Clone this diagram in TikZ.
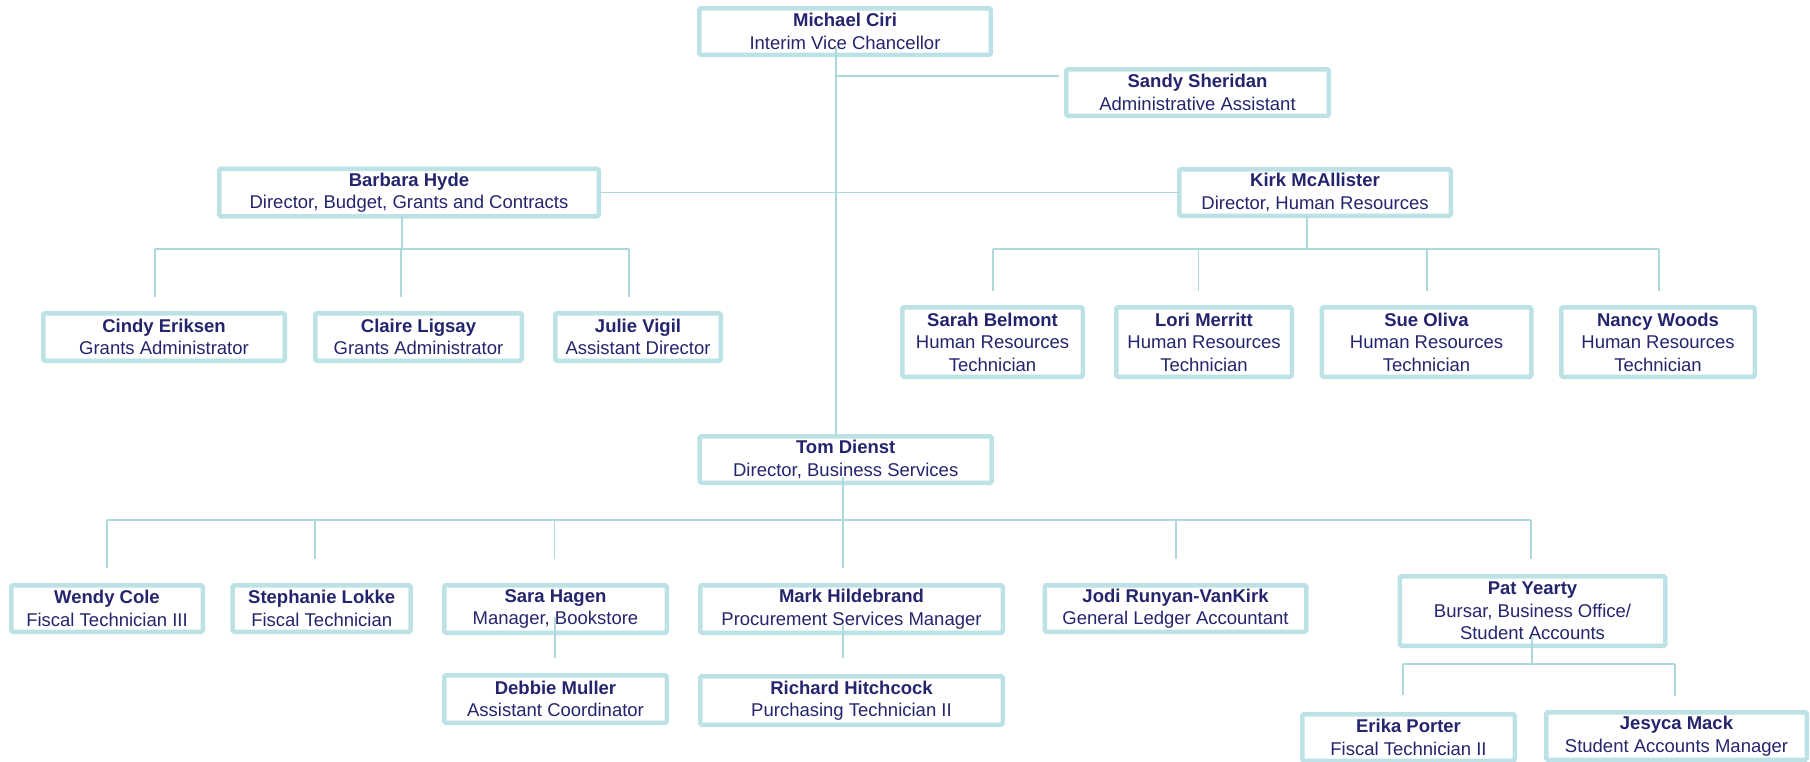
\documentclass[tikz,border=0pt]{standalone}
\usepackage{fontspec}
\setmainfont{Liberation Sans}
\definecolor{edge}{HTML}{BCE2E5}
\definecolor{wire}{HTML}{ADD8DC}
\definecolor{ink}{HTML}{25256E}
\tikzset{
  person/.style={draw=edge, line width=4.5pt, fill=white, rounded corners=1.5pt,
    inner sep=0pt, outer sep=0pt, align=center, text=ink,
    font=\fontsize{18.5}{22.5}\selectfont},
  link/.style={draw=wire, line width=1.6pt},
}
\newcommand{\who}[2]{\textbf{#1}\\#2}
\newcommand{\whothree}[3]{\textbf{#1}\\#2\\#3}
\begin{document}
\begin{tikzpicture}[x=1pt,y=-1pt]
\useasboundingbox (0,0) rectangle (1810,761);
\fill[white] (0,0) rectangle (1810,761);
\clip (0,0) rectangle (1810,761);

% ---- people ----
\node[person, minimum width=291.5, minimum height=46.5] (ciri) at (845,31.5) {\who{Michael Ciri}{Interim Vice Chancellor}};
\node[person, minimum width=262.5, minimum height=46.5] (sheridan) at (1197.5,92.5) {\who{Sandy Sheridan}{Administrative Assistant}};
\node[person, minimum width=379.5, minimum height=47.5] (hyde) at (409,192.5) {\who{Barbara Hyde}{Director, Budget, Grants and Contracts}};
\node[person, minimum width=271.5, minimum height=46.5] (mcallister) at (1315,192.5) {\who{Kirk McAllister}{Director, Human Resources}};

\node[person, minimum width=241.5, minimum height=47.5] (eriksen) at (164,337) {\who{Cindy Eriksen}{Grants Administrator}};
\node[person, minimum width=206.5, minimum height=47.5] (ligsay) at (418.5,337) {\who{Claire Ligsay}{Grants Administrator}};
\node[person, minimum width=165.5, minimum height=47.5] (vigil) at (638,337) {\who{Julie Vigil}{Assistant Director}};

\node[person, minimum width=180.5, minimum height=69.5] (belmont) at (992.5,342) {\whothree{Sarah Belmont}{Human Resources}{Technician}};
\node[person, minimum width=175.5, minimum height=69.5] (merritt) at (1204,342) {\whothree{Lori Merritt}{Human Resources}{Technician}};
\node[person, minimum width=209.5, minimum height=69.5] (oliva) at (1426.5,342) {\whothree{Sue Oliva}{Human Resources}{Technician}};
\node[person, minimum width=193.5, minimum height=69.5] (woods) at (1658,342) {\whothree{Nancy Woods}{Human Resources}{Technician}};

\node[person, minimum width=292, minimum height=46.5] (dienst) at (845.7,459.5) {\who{Tom Dienst}{Director, Business Services}};

\node[person, minimum width=191.5, minimum height=46.5] (cole) at (107,608.5) {\who{Wendy Cole}{Fiscal Technician III}};
\node[person, minimum width=178, minimum height=46.5] (lokke) at (321.7,608.5) {\who{Stephanie Lokke}{Fiscal Technician}};
\node[person, minimum width=222.5, minimum height=47.5] (hagen) at (555.5,609) {\who{Sara Hagen}{Manager, Bookstore}};
\node[person, minimum width=302.5, minimum height=47.5] (hildebrand) at (851.5,609) {\who{Mark Hildebrand}{Procurement Services Manager}};
\node[person, minimum width=261.5, minimum height=46.5] (runyan) at (1175.5,608.5) {\who{Jodi Runyan-VanKirk}{General Ledger Accountant}};
\node[person, minimum width=265.5, minimum height=69.5] (yearty) at (1532.5,611) {\whothree{Pat Yearty}{Bursar, Business Office/}{Student Accounts}};

\node[person, minimum width=222.5, minimum height=47.5] (muller) at (555.5,699) {\who{Debbie Muller}{Assistant Coordinator}};
\node[person, minimum width=302.5, minimum height=48.5] (hitchcock) at (851.5,700.5) {\who{Richard Hitchcock}{Purchasing Technician II}};
\node[person, minimum width=212.5, minimum height=46.5] (porter) at (1408.5,737.5) {\who{Erika Porter}{Fiscal Technician II}};
\node[person, minimum width=260.5, minimum height=47.5] (mack) at (1676.5,736) {\who{Jesyca Mack}{Student Accounts Manager}};

% ---- junctions and free ends of the connectors ----
\coordinate (trunk) at (836,47);
\coordinate (sandytap) at (836,76);
\coordinate (sandyend) at (1059,76);

\coordinate (hbus) at (402,249);
\coordinate (h1) at (155,297);
\coordinate (h2) at (401,297);
\coordinate (h3) at (629,297);

\coordinate (kbus) at (1307,249);
\coordinate (k1) at (992.7,291);
\coordinate (k2) at (1198.5,291);
\coordinate (k3) at (1427,291);
\coordinate (k4) at (1658.8,291);

\coordinate (ttop) at (842.7,477);
\coordinate (tbus) at (842.7,520);
\coordinate (t1) at (107,568);
\coordinate (t2) at (315,559);
\coordinate (t3) at (554.5,559);
\coordinate (t4) at (842.7,568);
\coordinate (t5) at (1175.7,559);
\coordinate (t6) at (1531,559);

\coordinate (stop) at (555,617);
\coordinate (send) at (555,658);
\coordinate (mtop) at (842.7,625);
\coordinate (mend) at (842.7,658);

\coordinate (ptop) at (1532,637);
\coordinate (pbus) at (1532,664);
\coordinate (p1) at (1403,695);
\coordinate (p2) at (1675,696);

% ---- connectors ----
\draw[link] (trunk) -- (trunk |- dienst.north);
\draw[link] (sandytap) -- (sandyend);
\draw[link] (hyde.east) -- (mcallister.west);

\draw[link] (hyde.south -| hbus) -- (hbus);
\draw[link] (h1 |- hbus) -- (h3 |- hbus);
\foreach \c in {h1,h2,h3} \draw[link] (\c |- hbus) -- (\c);

\draw[link] (mcallister.south -| kbus) -- (kbus);
\draw[link] (k1 |- kbus) -- (k4 |- kbus);
\foreach \c in {k1,k2,k3,k4} \draw[link] (\c |- kbus) -- (\c);

\draw[link] (ttop) -- (tbus);
\draw[link] (t1 |- tbus) -- (t6 |- tbus);
\foreach \c in {t1,t2,t3,t4,t5,t6} \draw[link] (\c |- tbus) -- (\c);

\draw[link] (stop) -- (send);
\draw[link] (mtop) -- (mend);

\draw[link] (ptop) -- (pbus);
\draw[link] (p1 |- pbus) -- (p2 |- pbus);
\foreach \c in {p1,p2} \draw[link] (\c |- pbus) -- (\c);
\end{tikzpicture}
\end{document}
